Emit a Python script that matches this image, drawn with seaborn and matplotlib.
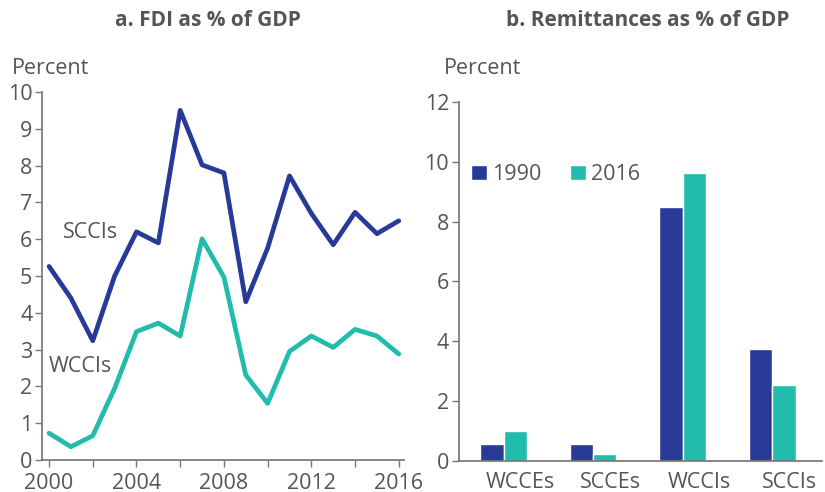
import matplotlib
matplotlib.use("Agg")
import matplotlib.pyplot as plt
import matplotlib.transforms as mtransforms
import numpy as np
import pandas as pd
import seaborn as sns

# panel a: FDI as % of GDP
years = list(range(2000, 2017))
scci_fdi = [5.26, 4.4, 3.24, 5.0, 6.2, 5.9, 9.5, 8.02, 7.8, 4.3, 5.76, 7.72, 6.7, 5.85, 6.73, 6.15, 6.5]
wcci_fdi = [0.73, 0.36, 0.66, 1.95, 3.49, 3.72, 3.37, 6.01, 4.97, 2.31, 1.54, 2.95, 3.37, 3.06, 3.55, 3.37, 2.88]

# panel b: remittances as % of GDP
groups = ["WCCEs", "SCCEs", "WCCIs", "SCCIs"]
rem_1990 = [0.57, 0.57, 8.49, 3.73]
rem_2016 = [1.0, 0.23, 9.61, 2.54]

NAVY = "#283a97"
TEAL = "#21bcab"
GREY = "#555555"
FS = 15.5

sns.set_theme(style="ticks")
plt.rcParams["font.family"] = ["Open Sans", "DejaVu Sans"]
plt.rcParams["font.weight"] = "medium"
plt.rcParams["text.color"] = GREY
plt.rcParams["axes.edgecolor"] = "#777777"
plt.rcParams["xtick.color"] = "#777777"
plt.rcParams["ytick.color"] = "#777777"
plt.rcParams["xtick.labelcolor"] = GREY
plt.rcParams["ytick.labelcolor"] = GREY

fig = plt.figure(figsize=(8.25, 4.92), dpi=100)
ax1 = fig.add_axes([0.051, 0.065, 0.439, 0.748])
ax2 = fig.add_axes([0.556, 0.063, 0.44, 0.730])

# ---- a
df_fdi = pd.DataFrame({
    "year": years * 2,
    "value": scci_fdi + wcci_fdi,
    "group": ["SCCIs"] * len(years) + ["WCCIs"] * len(years),
})
sns.lineplot(data=df_fdi, x="year", y="value", hue="group",
             palette={"SCCIs": NAVY, "WCCIs": TEAL}, linewidth=3.4,
             legend=False, ax=ax1)
ax1.set_xlim(1999.68, 2016.25)
ax1.set_ylim(0, 10)
ax1.set_xticks(range(2000, 2017, 2))
ax1.set_xticklabels([str(y) if y % 4 == 0 else "" for y in range(2000, 2017, 2)])
ax1.set_yticks(range(0, 11))
ax1.set_xlabel("")
ax1.set_ylabel("")
ax1.tick_params(axis="y", labelsize=FS, length=5, width=1, pad=2)
ax1.tick_params(axis="x", labelsize=FS, length=5, width=1, pad=4)
sns.despine(ax=ax1)


def fig_xy(px, py):
    return px / 825, 1 - py / 492


ax1.text(*fig_xy(63, 232), "SCCIs", transform=fig.transFigure, fontsize=FS,
         color=GREY, va="center", ha="left")
ax1.text(*fig_xy(49, 367), "WCCIs", transform=fig.transFigure, fontsize=FS,
         color=GREY, va="center", ha="left")

# ---- b
df_rem = pd.DataFrame({
    "group": groups * 2,
    "value": rem_1990 + rem_2016,
    "year": ["1990"] * 4 + ["2016"] * 4,
})
sns.barplot(data=df_rem, x="group", y="value", hue="year",
            palette={"1990": NAVY, "2016": TEAL}, width=0.52,
            saturation=1, ax=ax2)
ax2.set_xlim(-0.5, 3.55)
ax2.set_ylim(0, 12)
ax2.set_yticks(range(0, 13, 2))
ax2.set_xlabel("")
ax2.set_ylabel("")
ax2.tick_params(axis="y", labelsize=FS, length=5, width=1, pad=2)
ax2.tick_params(axis="x", labelsize=FS, length=0, pad=8)
shift = mtransforms.ScaledTranslation(17 / 100, 0, fig.dpi_scale_trans)
for lab in ax2.get_xticklabels():
    lab.set_transform(lab.get_transform() + shift)
sns.despine(ax=ax2)
leg = ax2.legend(loc="upper left", bbox_to_anchor=fig_xy(471, 164),
                 bbox_transform=fig.transFigure, ncol=2, frameon=False,
                 fontsize=FS, handlelength=0.75, handleheight=0.75,
                 handletextpad=0.25, columnspacing=1.3, borderaxespad=0,
                 borderpad=0)

# titles and unit labels
fig.text(*fig_xy(208, 20), "a. FDI as % of GDP", ha="center", va="center",
         fontsize=FS - 0.5, fontweight="bold", color=GREY)
fig.text(*fig_xy(648, 20), "b. Remittances as % of GDP", ha="center",
         va="center", fontsize=FS - 0.5, fontweight="bold", color=GREY)
fig.text(*fig_xy(12, 68), "Percent", ha="left", va="center",
         fontsize=FS, color=GREY)
fig.text(*fig_xy(444, 68), "Percent", ha="left", va="center",
         fontsize=FS, color=GREY)

fig.savefig("out.png", dpi=100)
